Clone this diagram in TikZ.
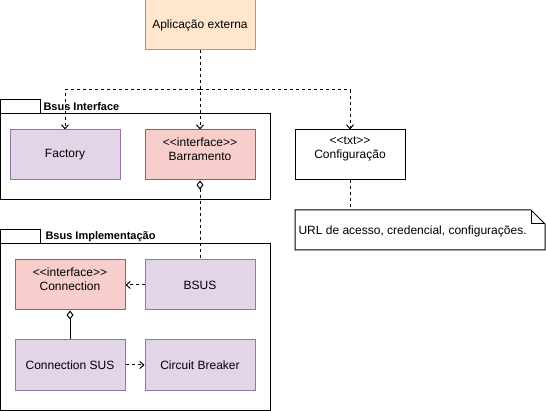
\documentclass[tikz,border=0pt]{standalone}
\usepackage{fontspec}
\setmainfont{Liberation Sans}
\usetikzlibrary{arrows.meta}
\definecolor{appfill}{HTML}{FFE6CC}
\definecolor{appdraw}{HTML}{D79B00}
\definecolor{implfill}{HTML}{E1D5E7}
\definecolor{impldraw}{HTML}{9673A6}
\definecolor{ifacefill}{HTML}{F8CECC}
\definecolor{ifacedraw}{HTML}{B85450}
\newcommand\stereo[1]{<\kern0pt<#1>\kern0pt>}

\begin{document}
\begin{tikzpicture}[x=1pt,y=-1pt,line width=1pt,
  every node/.style={font=\fontsize{12}{14}\selectfont},
  cls/.style={draw, minimum width=110pt, minimum height=50pt, inner sep=0pt},
  impl/.style={cls, fill=implfill, draw=impldraw},
  iface/.style={cls, fill=ifacefill, draw=ifacedraw},
  pkglabel/.style={anchor=west, inner sep=0pt, font=\fontsize{11}{13}\selectfont\bfseries},
  dep/.style={dash pattern=on 3pt off 3pt, -{Straight Barb[length=4pt,width=7pt]}},
  agg/.style={{Diamond[open,length=9pt,width=7pt]}-}]
\useasboundingbox (0,0) rectangle (546,411);

\node[cls, fill=appfill, draw=appdraw] (app) at (200,25) {Aplicação externa};

% Bsus Interface
\draw (0.5,100) rectangle (40,114);
\draw (0.5,114) rectangle (270,200);
\node[pkglabel] (pkgapi) at (43,107) {Bsus Interface};
\node[impl] (fact) at (65,155) {Factory};
\node[iface] (barr) at (200,155) {};
\node[align=center] (barrtxt) at (200,149) {\stereo{interface}\\Barramento};

\node[cls] (conf) at (350,155) {};
\node[align=center] (conftxt) at (350,149) {\stereo{txt}\\Configuração};

\draw (295,210) -- (531,210) -- (545,224) -- (545,250) -- (295,250) -- cycle;
\draw (531,210) -- (531,224) -- (545,224);
\node[anchor=west, inner sep=0pt] (notetxt) at (298,231) {URL de acesso, credencial, configurações.};
\coordinate (notetop) at (350,210);

% Bsus Implementacao
\draw (0.5,230) rectangle (40,244);
\draw (0.5,244) rectangle (270,410);
\node[pkglabel] (pkgimpl) at (45,237) {Bsus Implementação};
\node[iface] (conn) at (70,285) {};
\node[align=center] (conntxt) at (70,279) {\stereo{interface}\\Connection};
\node[impl] (bsus) at (200,285) {BSUS};
\node[impl] (connsus) at (70,365) {Connection SUS};
\node[impl] (cb) at (200,365) {Circuit Breaker};

\coordinate (fork) at (200,90);
\draw[dep] (app) -- (barr);
\draw[dep] (fork) -| (fact);
\draw[dep] (fork) -| (conf);
\draw[dash pattern=on 3pt off 3pt] (conf) -- (notetop);
\draw[agg, dash pattern=on 3pt off 3pt] (barr) -- (bsus);
\draw[dep] (bsus) -- (conn);
\draw[agg] (conn) -- (connsus);
\draw[dep] (connsus) -- (cb);

\end{tikzpicture}
\end{document}
